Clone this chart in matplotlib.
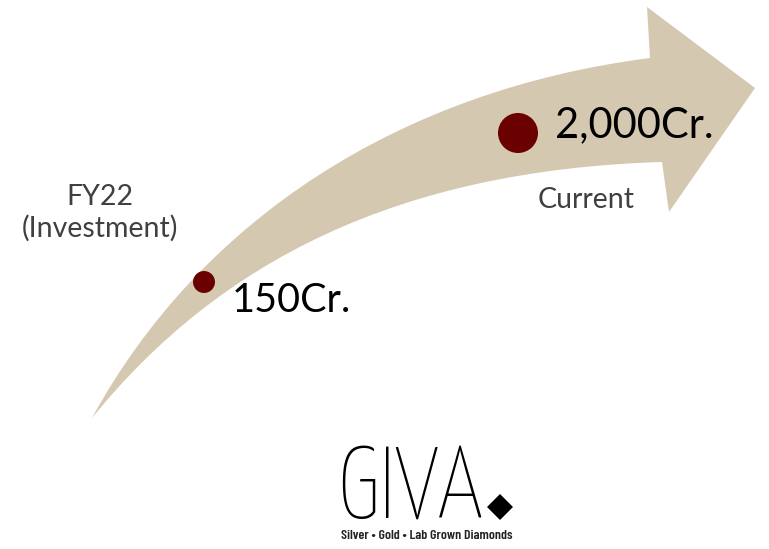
import matplotlib.pyplot as plt
from matplotlib.path import Path
from matplotlib.patches import PathPatch, Polygon

# Chart data
stages = ['FY22\n(Investment)', 'Current']
values = ['150Cr.', '2,000Cr.']
dot_x = [204, 518]
dot_y = [282, 133]
dot_sizes = [250, 830]

brand = 'GIVA'
tagline = 'Silver \u2022 Gold \u2022 Lab Grown Diamonds'

arrow_color = '#d4c8b0'
dot_color = '#6b0000'
label_color = '#404040'
body_font = ['Lato', 'DejaVu Sans']

fig = plt.figure(figsize=(7.69, 5.49), dpi=100)
ax = fig.add_axes([0, 0, 1, 1])
ax.set_xlim(0, 769)
ax.set_ylim(549, 0)
ax.axis('off')

# Curved arrow: upper edge to head, head, lower edge back to tail
verts = [
    (92, 418),
    (200, 220), (400, 90), (650, 58),
    (647, 7),
    (755, 88),
    (669, 212),
    (662, 162),
    (400, 170), (220, 260), (92, 418),
]
codes = [Path.MOVETO,
         Path.CURVE4, Path.CURVE4, Path.CURVE4,
         Path.LINETO, Path.LINETO, Path.LINETO, Path.LINETO,
         Path.CURVE4, Path.CURVE4, Path.CURVE4]
ax.add_patch(PathPatch(Path(verts, codes), facecolor=arrow_color, edgecolor='none'))

# Points
ax.scatter(dot_x, dot_y, s=dot_sizes, color=dot_color, zorder=3, linewidths=0)

# Value labels
ax.text(dot_x[0] + 28, dot_y[0] + 30, values[0], fontsize=28.5, family=body_font,
        color='black', ha='left', va='baseline')
ax.text(dot_x[1] + 37, dot_y[1] + 4, values[1], fontsize=30, family=body_font,
        color='black', ha='left', va='baseline')

# Stage labels
ax.text(100, 213, stages[0], fontsize=20.5, family=body_font,
        color=label_color, ha='center', va='center', linespacing=1.2)
ax.text(586, 200, stages[1], fontsize=20.5, family=body_font,
        color=label_color, ha='center', va='center')

# Logo
ax.text(337, 518, brand, fontsize=73, family='Yanone Kaffeesatz',
        weight=200, color='black', ha='left', va='baseline')
ax.add_patch(Polygon([(500, 494), (513, 507), (500, 520), (487, 507)],
                     closed=True, facecolor='black', edgecolor='none'))
ax.text(427, 536, tagline, fontsize=10, family='Barlow Condensed',
        weight='semibold', color='#222222', ha='center', va='center')

fig.savefig('out.png', dpi=100)
